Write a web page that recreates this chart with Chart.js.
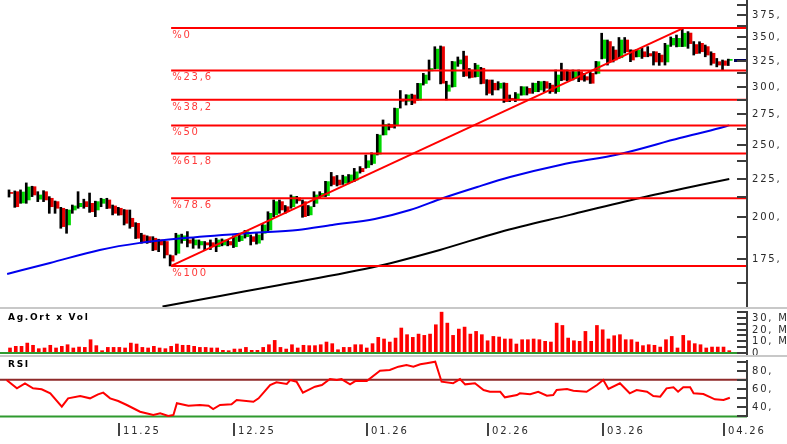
<!DOCTYPE html>
<html>
<head>
<meta charset="utf-8">
<script src="https://cdn.jsdelivr.net/npm/chart.js@4.4.1/dist/chart.umd.min.js"></script>
<style>
  html, body { margin: 0; padding: 0; background: #fff; }
  #wrap { position: relative; width: 787px; height: 444px; overflow: hidden; }
  #wrap canvas { position: absolute; left: 0; }
  .sep { position: absolute; left: 0; width: 787px; height: 2px; background: #c8c8c8; }
</style>
</head>
<body>
<div id="wrap">
  <canvas id="priceChart" width="787" height="307" style="top:0"></canvas>
  <canvas id="volChart" width="787" height="47" style="top:309px"></canvas>
  <canvas id="rsiChart" width="787" height="87" style="top:357px"></canvas>
  <div class="sep" style="top:307px"></div>
  <div class="sep" style="top:355px"></div>
</div>
<script>
/* daily candles, Oct 2025 - Apr 2026 */
const OPEN = [215.6,216.1,208.6,210.6,219.5,211.1,216.1,211.7,209.5,205.2,
  194.8,204.1,206.2,209.5,208.4,204.1,208.4,210.6,206.7,205.2,
  204.1,198.9,195.8,188.8,187.8,186.9,185.9,185.0,177.0,178.3,
  185.5,185.9,183.0,183.0,184.3,184.3,182.0,183.0,185.0,182.0,
  185.5,187.8,187.8,184.0,189.8,191.8,201.0,209.5,206.2,206.2,
  212.0,209.5,201.0,208.4,212.8,213.5,226.5,224.1,221.9,222.5,
  224.1,232.4,233.0,236.0,243.0,258.0,266.5,266.0,288.5,286.5,
  292.2,287.7,302.9,315.0,317.3,339.7,295.6,299.8,322.0,330.0,
  315.9,309.4,317.6,306.2,303.1,298.4,303.1,289.2,287.7,292.2,
  298.3,295.2,296.8,304.6,301.4,295.2,315.9,314.3,307.8,314.3,
  309.4,312.6,312.6,327.5,345.2,336.2,328.2,346.9,336.2,329.2,
  334.4,332.5,334.4,331.0,323.9,341.5,339.8,340.0,354.5,342.0,
  343.3,339.8,332.8,324.2,325.0,325.5];
const HIGH = [217.3,216.6,217.3,222.1,219.8,216.1,216.8,212.8,209.9,205.8,
  204.5,207.3,216.1,211.1,215.2,209.8,211.7,211.7,207.3,205.8,
  204.4,204.1,196.2,189.8,188.3,187.8,186.3,185.2,177.4,189.8,
  189.3,190.8,186.9,185.9,185.0,185.9,186.9,186.5,185.9,188.3,
  189.8,191.5,188.8,189.8,195.8,203.0,210.6,210.6,207.0,213.9,
  213.0,210.6,207.0,216.1,216.1,223.2,229.5,227.3,227.5,228.0,
  232.4,233.7,242.3,244.0,258.5,270.3,267.0,280.5,296.3,292.5,
  293.0,303.0,312.6,325.9,339.7,340.5,305.0,324.5,329.0,335.0,
  317.4,322.5,318.5,306.5,306.2,304.6,303.5,292.2,294.5,300.0,
  299.8,303.3,305.0,305.0,303.1,315.9,322.7,315.9,315.9,315.9,
  312.6,314.3,324.5,354.3,346.9,339.8,349.6,349.6,336.5,336.5,
  338.0,339.8,334.6,332.8,343.3,350.2,352.3,360.0,356.1,345.2,
  345.0,341.5,334.4,327.5,325.9,326.8];
const LOW = [212.5,205.8,208.4,208.4,212.8,209.5,209.5,202.0,202.0,192.8,
  189.8,202.0,205.2,205.2,202.6,199.9,206.2,205.0,201.0,200.8,
  194.8,192.8,186.7,184.0,183.9,179.8,179.2,175.7,171.4,177.4,
  184.0,181.9,181.1,181.1,180.2,180.4,179.2,182.5,182.5,181.5,
  185.0,187.0,183.0,183.5,185.9,190.8,199.9,202.0,202.0,205.2,
  208.4,199.5,200.5,206.2,211.7,212.8,220.0,220.0,221.0,221.5,
  223.0,229.0,232.5,235.0,242.3,257.9,262.0,263.5,280.5,283.2,
  283.5,287.5,301.4,306.2,317.0,302.5,287.7,299.5,319.5,309.5,
  308.0,309.0,302.5,292.2,292.2,296.8,285.5,286.2,286.2,292.0,
  292.2,293.7,295.2,295.2,293.7,293.7,305.5,305.5,306.2,304.6,
  305.0,302.9,312.0,327.0,320.8,323.9,327.5,333.0,324.2,329.0,
  327.5,329.2,320.8,320.5,320.8,340.0,339.5,339.8,338.0,331.0,
  332.8,329.2,320.8,319.0,316.0,320.3];
const CLOSE = [214.9,206.2,215.9,219.3,213.9,213.9,210.6,206.2,205.2,193.8,
  204.1,206.7,208.4,206.2,203.0,209.5,211.1,205.2,202.0,201.0,
  195.8,193.8,186.9,184.3,184.3,180.2,183.0,177.4,174.0,188.8,
  188.3,184.0,185.9,185.0,183.0,182.0,185.9,185.9,183.0,187.8,
  188.3,190.8,185.0,188.8,194.8,202.0,209.5,204.1,203.0,212.8,
  210.0,199.9,206.2,213.9,215.0,223.0,221.0,220.7,226.5,227.7,
  229.9,230.0,238.0,243.0,257.9,266.5,264.0,280.2,286.5,292.2,
  284.8,302.9,311.0,317.4,337.2,303.1,301.4,324.2,326.0,310.0,
  308.6,320.8,302.9,293.7,296.8,303.1,286.2,287.7,293.2,299.8,
  293.7,303.1,304.6,298.4,295.2,311.0,306.2,306.2,314.3,306.2,
  306.2,303.1,324.2,346.9,323.9,325.9,346.9,334.4,325.9,336.2,
  329.2,330.0,323.9,323.9,341.5,348.7,348.7,354.3,343.0,332.5,
  334.4,331.0,322.5,320.8,320.5,325.9];

// volume, millions
const VOLUME = [4.3,5.7,5.7,8.5,6.6,3.7,4.3,6.6,4.3,5.7,
  7.1,4.3,5.1,4.8,11.4,6.3,2.0,4.8,4.8,4.8,
  4.3,8.5,7.7,4.8,4.3,5.7,4.3,3.7,5.7,7.7,
  6.6,6.6,5.7,4.8,4.8,4.3,4.3,2.3,2.0,3.4,
  3.4,4.8,2.3,2.3,4.8,7.1,10.8,4.8,3.4,7.1,
  4.3,6.6,6.3,6.3,7.1,9.4,8.0,2.8,4.8,4.8,
  7.1,7.1,4.3,8.0,13.4,12.0,9.4,12.8,21.4,15.7,
  13.4,16.2,15.1,16.2,24.2,35.0,25.6,15.1,20.5,22.2,
  16.2,18.5,15.7,10.5,14.2,13.7,12.0,12.0,7.7,11.4,
  11.4,12.0,11.4,10.0,9.4,25.6,23.6,12.8,10.5,10.0,
  18.5,10.0,23.6,19.9,12.0,14.8,15.7,11.4,11.4,9.4,
  6.3,7.1,6.6,5.1,11.4,14.2,4.3,15.1,10.5,8.0,
  7.1,4.3,5.1,5.1,5.1,2.0];

// moving averages, read as [candle index, value]
const MA_FAST = [[-0.5,167.2],[6.95,173.0],[15.6,180.2],[22.6,184.2],[30.8,187.1],[41.7,190.0],
  [50.0,191.8],[56.0,194.8],[63.4,198.5],[69.5,204.1],[75.3,211.9],[81.2,219.3],[86.9,226.2],
  [95.6,234.9],[106.0,243.1],[116.4,255.5],[123.4,263.6],[125,265.8]];
const MA_SLOW = [[26.5,151.0],[36.5,156.1],[46.9,161.5],[64.0,171.4],[74.7,180.2],[85.2,190.6],
  [97.3,201.0],[109.5,211.9],[119.9,220.6],[125,224.8]];

// fibonacci retracement from the Nov low to the Mar high
const TREND = [[28,171.4],[117,360.0]];
const FIB_START = 28;
const FIB_LEVELS = [360.0, 315.5, 287.9, 265.7, 243.4, 211.8, 171.4];
const FIB_LABELS = ['%0', '%23,6', '%38,2', '%50', '%61,8', '%78.6', '%100'];

const RSI_IDX = [-0.6,1.2,2.6,4.0,5.5,7.0,9.0,10.1,12.2,13.9,15.3,16.2,17.4,18.8,20.3,22.6,24.9,26.1,27.5,28.4,
  29.0,31.0,33.0,34.5,35.3,36.5,38.5,39.4,42.3,43.2,45.2,46.3,48.1,48.7,49.8,50.9,53.0,54.2,55.6,56.8,
  57.6,59.1,60.0,62.0,64.3,66.0,67.5,68.9,70.1,71.3,72.4,73.9,75.0,77.0,78.2,79.1,80.8,82.3,83.4,85.2,
  86.0,88.1,88.6,90.4,91.8,93.3,94.4,95.0,96.8,97.9,100.2,102.0,103.1,104.0,106.0,107.7,108.9,110.7,111.8,113.0,
  114.1,115.3,116.1,117.0,118.2,118.8,120.5,122.5,124.0,125.1];
const RSI_VAL = [69.8,60.7,66.2,60.7,59.7,55.3,40.7,49.8,52.3,49.8,54.2,56.0,49.8,46.9,42.5,35.2,31.6,33.4,30.5,31.6,
  44.4,41.7,42.5,41.7,38.1,42.5,43.3,48.0,46.1,49.8,64.4,67.3,65.5,69.8,68.0,56.0,62.5,64.4,70.9,69.8,
  70.9,65.1,68.7,68.7,80.0,80.8,84.4,86.2,84.4,87.0,88.1,89.8,68.0,66.2,70.9,65.1,66.2,58.9,57.0,57.0,
  50.9,53.4,55.3,54.2,57.0,52.7,53.4,58.9,60.0,58.1,57.0,64.4,69.8,60.0,66.2,55.3,58.9,57.0,52.3,51.6,
  60.7,61.8,57.0,61.8,61.8,55.3,54.5,48.7,48.0,50.5];
const RSI_LEVELS = [70, 30];

const PRICE_TICKS = [162.5,175,187.5,200,212.5,225,237.5,250,262.5,275,287.5,300,312.5,325,337.5,350,362.5,375,387.5];
const PRICE_LABELED = [175,200,225,250,275,300,325,350,375];
const VOL_TICKS = [0,5,10,15,20,25,30,35];
const VOL_LABELED = [0,10,20,30];
const RSI_TICKS = [30,40,50,60,70,80,90];
const RSI_LABELED = [40,60,80];
const MONTH_IDX = [19, 39, 62, 83, 103, 124];
const MONTH_LABELS = ['11.25', '12.25', '01.26', '02.26', '03.26', '04.26'];

const X_MIN = -1.74, X_MAX = 128.08;
const AXIS_FONT = '10px "DejaVu Sans"';
const SPACING = '1.8px';
const UP = '#00d800', DOWN = '#e80000';

const idx = OPEN.map((_, i) => i);
const pts = arr => arr.map(([x, y]) => ({ x, y }));
const xScale = { type: 'linear', min: X_MIN, max: X_MAX, offset: false, bounds: 'data', display: false };

function rightAxis(ticks, labeled, fmt, ext) {
  return {
    id: 'rightAxis',
    afterDraw(chart) {
      const { ctx, chartArea: a } = chart;
      const ys = chart.scales.y;
      const top = a.top + ext[0], bottom = a.bottom + ext[1];
      ctx.save();
      ctx.fillStyle = '#3c3c3c';
      ctx.fillRect(a.right - 1, top, 2, bottom - top);
      ctx.font = AXIS_FONT;
      ctx.letterSpacing = SPACING;
      ctx.textBaseline = 'middle';
      ctx.textAlign = 'left';
      ticks.forEach(v => {
        const py = Math.round(ys.getPixelForValue(v));
        ctx.fillStyle = '#3c3c3c';
        ctx.fillRect(a.right - 10, py - 1, 10, 2);
        if (labeled.includes(v)) {
          ctx.fillStyle = '#2a2a2a';
          ctx.fillText(fmt(v), a.right + 5, py + 0.5);
        }
      });
      ctx.restore();
    }
  };
}

function panelTitle(text, baseline) {
  return {
    id: 'panelTitle',
    afterDraw(chart) {
      const ctx = chart.ctx;
      ctx.save();
      ctx.font = 'bold 9px "DejaVu Sans"';
      ctx.letterSpacing = '1.7px';
      ctx.fillStyle = '#000';
      ctx.textBaseline = 'alphabetic';
      ctx.fillText(text, 8, baseline);
      ctx.restore();
    }
  };
}

const fibText = {
  id: 'fibText',
  afterDatasetsDraw(chart) {
    const { ctx, scales: { x, y } } = chart;
    ctx.save();
    ctx.font = AXIS_FONT;
    ctx.letterSpacing = SPACING;
    ctx.fillStyle = '#ff3a3a';
    ctx.textBaseline = 'alphabetic';
    FIB_LEVELS.forEach((lv, k) => {
      ctx.fillText(FIB_LABELS[k], x.getPixelForValue(FIB_START) + 1, Math.round(y.getPixelForValue(lv)) + 10);
    });
    // last price marker on the axis
    const a = chart.chartArea;
    const py = Math.round(y.getPixelForValue(CLOSE[CLOSE.length - 1]));
    ctx.fillStyle = '#00005a';
    ctx.fillRect(a.right - 13, py - 1, 13, 3);
    ctx.restore();
  }
};

const monthAxis = {
  id: 'monthAxis',
  afterDraw(chart) {
    const { ctx, chartArea: a, scales: { x } } = chart;
    ctx.save();
    ctx.font = AXIS_FONT;
    ctx.letterSpacing = SPACING;
    ctx.textBaseline = 'alphabetic';
    MONTH_IDX.forEach((m, k) => {
      const px = Math.round(x.getPixelForValue(m));
      ctx.fillStyle = '#444';
      ctx.fillRect(px - 1, a.bottom + 5, 2, 13);
      ctx.fillStyle = '#2a2a2a';
      ctx.fillText(MONTH_LABELS[k], px + 4, a.bottom + 16);
    });
    ctx.restore();
  }
};

const lineDs = (data, color, extra) => Object.assign({
  type: 'line', data, borderColor: color, borderWidth: 2, pointRadius: 0,
  tension: 0, fill: false, order: 0
}, extra || {});

const common = {
  responsive: false,
  animation: false,
  devicePixelRatio: 1,
  events: [],
  plugins: { legend: { display: false }, tooltip: { enabled: false } }
};

// ---- price panel
new Chart(document.getElementById('priceChart'), {
  type: 'bar',
  data: {
    datasets: [
      ...FIB_LEVELS.map(lv => lineDs([{ x: FIB_START, y: lv }, { x: X_MAX, y: lv }], '#ff0000')),
      lineDs(pts(TREND), '#ff0000'),
      lineDs(pts(MA_FAST), '#0000ee', { cubicInterpolationMode: 'monotone' }),
      lineDs(pts(MA_SLOW), '#000000', { cubicInterpolationMode: 'monotone' }),
      {
        label: 'wick',
        data: idx.map(i => ({ x: i, y: [LOW[i], HIGH[i]] })),
        backgroundColor: '#000',
        barThickness: 2,
        order: 1
      },
      {
        label: 'body',
        data: idx.map(i => ({ x: i, y: [OPEN[i], CLOSE[i]] })),
        backgroundColor: idx.map(i => CLOSE[i] >= OPEN[i] ? UP : DOWN),
        barThickness: 3,
        minBarLength: 1,
        order: 2
      }
    ]
  },
  options: {
    ...common,
    layout: { padding: { right: 40 } },
    scales: {
      x: xScale,
      y: { type: 'logarithmic', min: 150.8, max: 393.0, bounds: 'data', display: false }
    }
  },
  plugins: [fibText, rightAxis(PRICE_TICKS, PRICE_LABELED, v => v + ',', [0, 0])]
});

// ---- volume panel
new Chart(document.getElementById('volChart'), {
  type: 'bar',
  data: {
    datasets: [
      lineDs([{ x: X_MIN, y: 0 }, { x: X_MAX, y: 0 }], '#2f9a2f', { clip: false }),
      {
        data: idx.map(i => ({ x: i, y: VOLUME[i] })),
        backgroundColor: '#ff0000',
        barThickness: 3,
        order: 1
      }
    ]
  },
  options: {
    ...common,
    layout: { padding: { right: 40, bottom: 3 } },
    scales: {
      x: xScale,
      y: { type: 'linear', min: 0, max: 37.7, bounds: 'data', display: false }
    }
  },
  plugins: [panelTitle('Ag.Ort x Vol', 11), rightAxis(VOL_TICKS, VOL_LABELED, v => v === 0 ? '0' : v + ', M', [2, 3])]
});

// ---- RSI panel
new Chart(document.getElementById('rsiChart'), {
  type: 'line',
  data: {
    datasets: [
      lineDs(RSI_IDX.map((x, k) => ({ x, y: RSI_VAL[k] })), '#ff0000'),
      lineDs([{ x: X_MIN, y: RSI_LEVELS[0] }, { x: X_MAX, y: RSI_LEVELS[0] }], '#8e2a2a', { order: 1 }),
      lineDs([{ x: X_MIN, y: RSI_LEVELS[1] }, { x: X_MAX, y: RSI_LEVELS[1] }], '#2f9a2f', { order: 1 })
    ]
  },
  options: {
    ...common,
    layout: { padding: { right: 40, top: 2, bottom: 26 } },
    scales: {
      x: xScale,
      y: { type: 'linear', min: 28.3, max: 92.8, bounds: 'data', display: false }
    }
  },
  plugins: [panelTitle('RSI', 10), monthAxis, rightAxis(RSI_TICKS, RSI_LABELED, v => v + ',', [1, -1])]
});
</script>
</body>
</html>
